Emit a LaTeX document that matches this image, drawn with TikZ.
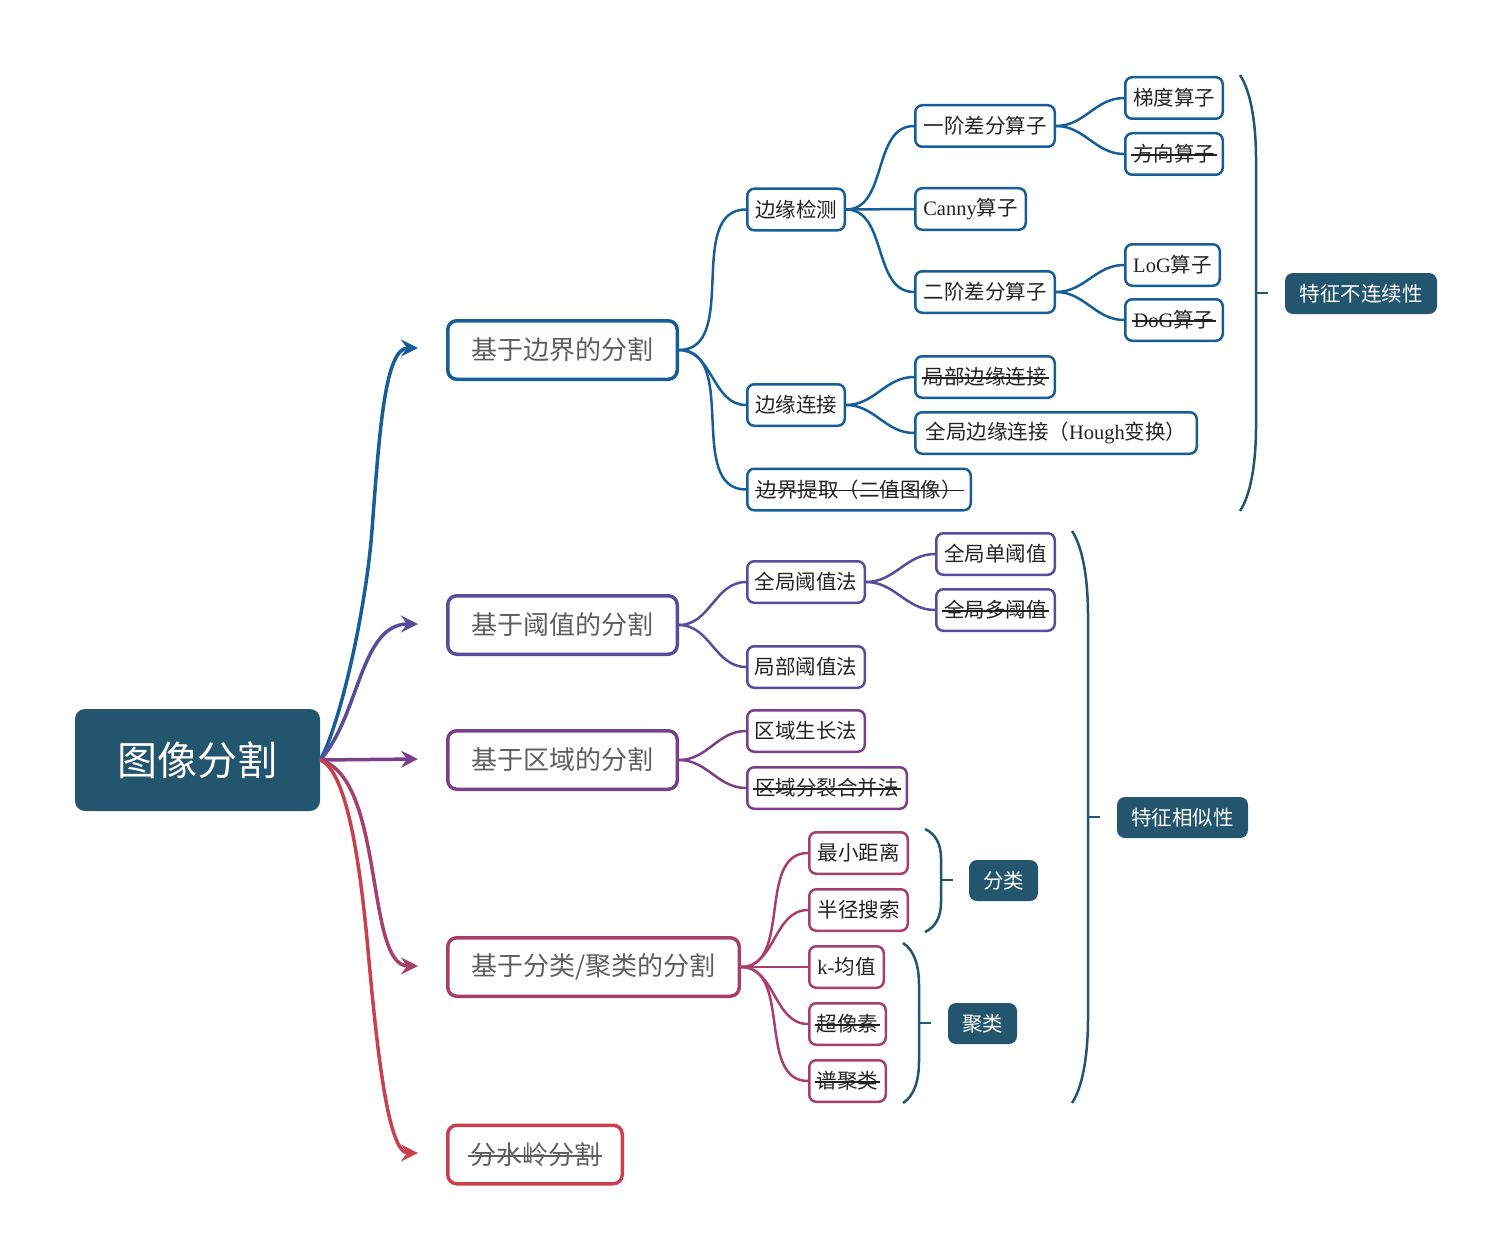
\documentclass[tikz,border=0pt]{standalone}
\usepackage{fontspec}
\setmainfont{Noto Sans CJK SC}
\newfontfamily\lat{Liberation Serif}
\usetikzlibrary{arrows.meta,calc}
\definecolor{dk}{HTML}{23556F}
\definecolor{cb}{HTML}{175E98}
\definecolor{cp}{HTML}{574D9C}
\definecolor{cv}{HTML}{7B3F89}
\definecolor{cr}{HTML}{A6406B}
\definecolor{cd}{HTML}{C9404F}
\definecolor{gtext}{HTML}{5E5E5E}
\definecolor{btext}{HTML}{222222}
\newcommand{\mystrike}[1]{\setbox0\hbox{#1}\kern2pt\copy0\kern2pt\llap{\rule[0.3em]{\dimexpr\wd0+4pt\relax}{1.6pt}}}
\tikzset{
  rootbox/.style={fill=dk, rounded corners=10pt, text=white, font=\fontsize{40}{48}\selectfont, minimum width=245pt, minimum height=102pt, inner sep=0pt},
  mainbox/.style={draw=#1, line width=3.5pt, fill=white, rounded corners=9pt, text=gtext, font=\fontsize{26}{30}\selectfont, minimum height=58.5pt, inner sep=0pt},
  subbox/.style={draw=#1, line width=2.5pt, fill=white, rounded corners=7pt, text=btext, font=\fontsize{20.5}{24}\selectfont, minimum height=41.5pt, inner sep=0pt},
  labbox/.style={fill=dk, rounded corners=8pt, text=white, font=\fontsize{20.5}{24}\selectfont, minimum height=41pt, inner sep=0pt},
  arr/.style={line width=3.5pt, -{Stealth[length=17pt,width=17pt,inset=6pt]}},
  conn/.style={line width=2.5pt},
  brk/.style={draw=dk, line width=2.5pt},
}
\begin{document}
\begin{tikzpicture}[x=1pt,y=-1pt]
\useasboundingbox (0,0) rectangle (1512,1260);
% root
\node[rootbox] (root) at (197.5,760) {图像分割};
% main nodes
\node[mainbox=cb, minimum width=229.5pt] (m1) at (562.5,350) {基于边界的分割};
\node[mainbox=cp, minimum width=229.5pt] (m2) at (562.5,625) {基于阈值的分割};
\node[mainbox=cv, minimum width=229.5pt] (m3) at (562.5,760) {基于区域的分割};
\node[mainbox=cr, minimum width=291.5pt] (m4) at (593.5,967) {基于分类/聚类的分割};
\node[mainbox=cd, minimum width=174.5pt] (m5) at (535,1154.5) {\mystrike{分水岭分割}};
% arrow ends
\coordinate (a1) at (418,348);
\coordinate (a2) at (418,624);
\coordinate (a3) at (418,759);
\coordinate (a4) at (418,966);
\coordinate (a5) at (418,1153);
\draw[arr, cb] (root.east) .. controls (340,725) and (366,610) .. (372,530) .. controls (379.5,430) and (385,348) .. (a1);
\draw[arr, cp] (root.east) .. controls (360,715) and (360,624) .. (a2);
\draw[arr, cv] (root.east) -- (a3);
\draw[arr, cr] (root.east) .. controls (385,778) and (365,966) .. (a4);
\draw[arr, cd] (root.east) .. controls (345,770) and (359,850) .. (368,950) .. controls (377,1050) and (388,1153) .. (a5);
% boundary branch
\node[subbox=cb, minimum width=97.5pt] (bj) at (796,209.5) {边缘检测};
\node[subbox=cb, minimum width=97.5pt] (bl) at (796,405) {边缘连接};
\node[subbox=cb, minimum width=223.5pt] (bt) at (859,489.5) {\mystrike{边界提取（二值图像）}};
\node[subbox=cb, minimum width=139.5pt] (t1) at (985,126) {一阶差分算子};
\node[subbox=cb, minimum width=110.5pt] (t2) at (970.5,209) {{\lat Canny}算子};
\node[subbox=cb, minimum width=139.5pt] (t3) at (985,292) {二阶差分算子};
\node[subbox=cb, minimum width=139.5pt] (t4) at (985,377) {\mystrike{局部边缘连接}};
\node[subbox=cb, minimum width=281.5pt] (t5) at (1056,433) {全局边缘连接（{\lat Hough}变换）};
\node[subbox=cb, minimum width=97.5pt] (u1) at (1174,98) {梯度算子};
\node[subbox=cb, minimum width=97.5pt] (u2) at (1174,154) {\mystrike{方向算子}};
\node[subbox=cb, minimum width=94.5pt] (u3) at (1172.5,265) {{\lat LoG}算子};
\node[subbox=cb, minimum width=97.5pt] (u4) at (1174,320) {\mystrike{{\lat DoG}算子}};
\foreach \t in {bj,bl,bt} \draw[conn, cb] (m1.east) to[out=0,in=180] (\t.west);
\foreach \t in {t1,t2,t3} \draw[conn, cb] (bj.east) to[out=0,in=180] (\t.west);
\foreach \t in {t4,t5} \draw[conn, cb] (bl.east) to[out=0,in=180] (\t.west);
\foreach \t in {u1,u2} \draw[conn, cb] (t1.east) to[out=0,in=180] (\t.west);
\foreach \t in {u3,u4} \draw[conn, cb] (t3.east) to[out=0,in=180] (\t.west);
% threshold branch
\node[subbox=cp, minimum width=117.5pt] (p1) at (806,582) {全局阈值法};
\node[subbox=cp, minimum width=117.5pt] (p2) at (806,667) {局部阈值法};
\node[subbox=cp, minimum width=118.5pt] (p3) at (995.5,554) {全局单阈值};
\node[subbox=cp, minimum width=118.5pt] (p4) at (995.5,610) {\mystrike{全局多阈值}};
\foreach \t in {p1,p2} \draw[conn, cp] (m2.east) to[out=0,in=180] (\t.west);
\foreach \t in {p3,p4} \draw[conn, cp] (p1.east) to[out=0,in=180] (\t.west);
% region branch
\node[subbox=cv, minimum width=117.5pt] (r1) at (806,731) {区域生长法};
\node[subbox=cv, minimum width=159.5pt] (r2) at (827,788) {\mystrike{区域分裂合并法}};
\foreach \t in {r1,r2} \draw[conn, cv] (m3.east) to[out=0,in=180] (\t.west);
% classification branch
\node[subbox=cr, minimum width=98.5pt] (c1) at (858.5,853) {最小距离};
\node[subbox=cr, minimum width=98.5pt] (c2) at (858.5,910) {半径搜索};
\node[subbox=cr, minimum width=74.5pt] (c3) at (846.5,967) {{\lat k-}均值};
\node[subbox=cr, minimum width=76.5pt] (c4) at (847.5,1024) {\mystrike{超像素}};
\node[subbox=cr, minimum width=76.5pt] (c5) at (847.5,1081) {\mystrike{谱聚类}};
\foreach \t in {c1,c2,c3,c4,c5} \draw[conn, cr] (m4.east) to[out=0,in=180] (\t.west);
% labels
\node[labbox, minimum width=152pt] (L1) at (1361,293.5) {特征不连续性};
\node[labbox, minimum width=131pt] (L2) at (1182.5,817.5) {特征相似性};
\node[labbox, minimum width=69pt] (L3) at (1003.5,880.5) {分类};
\node[labbox, minimum width=69pt] (L4) at (982.5,1023.5) {聚类};
% brackets
\coordinate (k1t) at (1240,75);  \coordinate (k1b) at (1240,511); \coordinate (k1m) at (1256,293); \coordinate (k1e) at (1268,293);
\coordinate (k2t) at (1072,531); \coordinate (k2b) at (1072,1103); \coordinate (k2m) at (1088,817); \coordinate (k2e) at (1100,817);
\coordinate (k3t) at (925,829);  \coordinate (k3b) at (925,932); \coordinate (k3m) at (941,880); \coordinate (k3e) at (953,880);
\coordinate (k4t) at (903,943);  \coordinate (k4b) at (903,1103); \coordinate (k4m) at (919,1023); \coordinate (k4e) at (931,1023);
\draw[brk] (k1t) .. controls (1250,90) and (1256,120) .. (1256,160) -- (1256,426) .. controls (1256,466) and (1250,496) .. (k1b);
\draw[brk] (k1m) -- (k1e);
\draw[brk] (k2t) .. controls (1082,546) and (1088,576) .. (1088,616) -- (1088,1018) .. controls (1088,1058) and (1082,1088) .. (k2b);
\draw[brk] (k2m) -- (k2e);
\draw[brk] (k3t) .. controls (936,834) and (941,845) .. (941,858) -- (941,903) .. controls (941,916) and (936,927) .. (k3b);
\draw[brk] (k3m) -- (k3e);
\draw[brk] (k4t) .. controls (914,950) and (919,965) .. (919,985) -- (919,1061) .. controls (919,1081) and (914,1096) .. (k4b);
\draw[brk] (k4m) -- (k4e);
\end{tikzpicture}
\end{document}
